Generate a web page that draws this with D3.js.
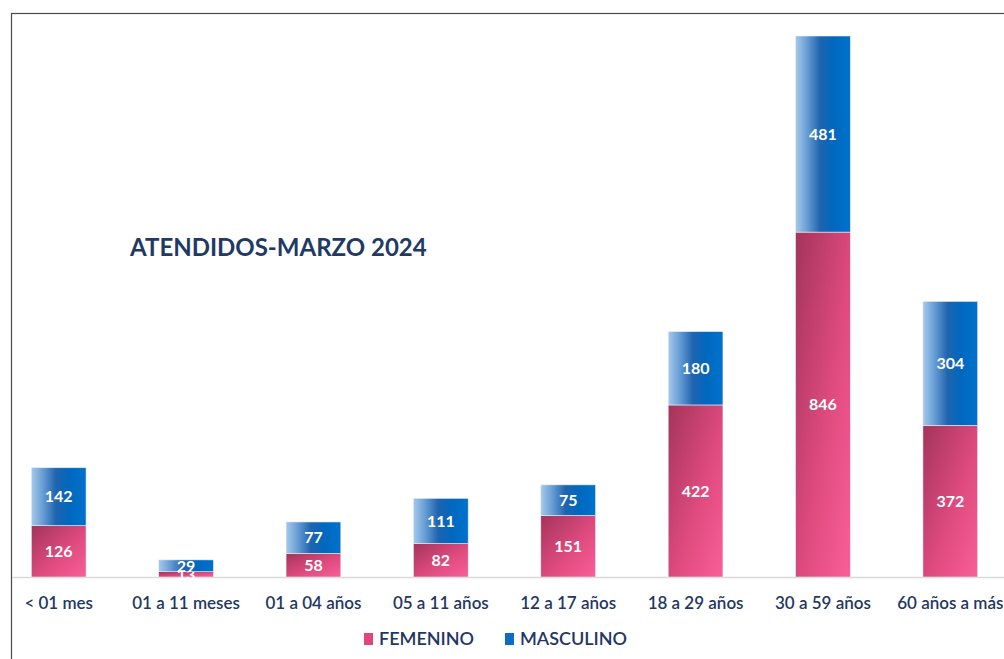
<!DOCTYPE html>
<html>
<head>
<meta charset="utf-8">
<script src="https://cdn.jsdelivr.net/npm/d3@7"></script>
<style>
  body { margin: 0; background: #fff; overflow: hidden; }
  svg { display: block; }
</style>
</head>
<body>
<svg id="chart" width="1004" height="659"></svg>
<script>
var svg = d3.select("#chart");

// data
var categories = ["< 01 mes", "01 a 11 meses", "01 a 04 años", "05 a 11 años",
  "12 a 17 años", "18 a 29 años", "30 a 59 años", "60 años a más"];
var femenino = [126, 13, 58, 82, 151, 422, 846, 372];
var masculino = [142, 29, 77, 111, 75, 180, 481, 304];
var seriesNames = ["FEMENINO", "MASCULINO"];
var chartTitle = "ATENDIDOS-MARZO 2024";

var rows = categories.map(function (c, i) {
  return { cat: c, FEMENINO: femenino[i], MASCULINO: masculino[i] };
});
var stacked = d3.stack().keys(seriesNames)(rows);

// plot area runs past the right edge, like the cropped original
var x = d3.scaleBand()
  .domain(categories)
  .range([-5, 1014])
  .paddingInner(0.57)
  .paddingOuter(0.285);

var y = d3.scaleLinear()
  .domain([0, 1327])
  .range([577, 36]);

// gradients
var defs = svg.append("defs");
var gF = defs.append("linearGradient").attr("id", "gradF")
  .attr("x1", "0").attr("y1", "0").attr("x2", "1").attr("y2", "1");
gF.append("stop").attr("offset", "0%").attr("stop-color", "#a3345a");
gF.append("stop").attr("offset", "55%").attr("stop-color", "#de4a7e");
gF.append("stop").attr("offset", "100%").attr("stop-color", "#f95f98");

var gM = defs.append("linearGradient").attr("id", "gradM")
  .attr("x1", "0").attr("y1", "0").attr("x2", "1").attr("y2", "0");
gM.append("stop").attr("offset", "0%").attr("stop-color", "#a6c9ea");
gM.append("stop").attr("offset", "20%").attr("stop-color", "#6aa0d6");
gM.append("stop").attr("offset", "45%").attr("stop-color", "#1f64ae");
gM.append("stop").attr("offset", "70%").attr("stop-color", "#0068bf");
gM.append("stop").attr("offset", "100%").attr("stop-color", "#0072cc");

var fills = { FEMENINO: "url(#gradF)", MASCULINO: "url(#gradM)" };
var swatch = { FEMENINO: "#e0457d", MASCULINO: "#0b6cc4" };

// outer frame (cropped on the right and bottom)
svg.append("rect")
  .attr("x", 11.5).attr("y", 13.5)
  .attr("width", 1100).attr("height", 700)
  .attr("fill", "none")
  .attr("stroke", "#4a4a4a")
  .attr("stroke-width", 1.2);

// baseline
svg.append("line")
  .attr("x1", 12).attr("x2", 1004)
  .attr("y1", y(0) + 0.5).attr("y2", y(0) + 0.5)
  .attr("stroke", "#d9d9d9")
  .attr("stroke-width", 1.5);

// bars
var layers = svg.selectAll("g.layer")
  .data(stacked)
  .enter().append("g")
  .attr("class", "layer");

layers.selectAll("rect")
  .data(function (d) { return d.map(function (p) { p.key = d.key; return p; }); })
  .enter().append("rect")
  .attr("x", function (d) { return x(d.data.cat); })
  .attr("y", function (d) { return y(d[1]); })
  .attr("width", x.bandwidth())
  .attr("height", function (d) { return y(d[0]) - y(d[1]); })
  .attr("fill", function (d) { return fills[d.key]; })
  .attr("stroke", "#e8eef6")
  .attr("stroke-width", 0.6);

// value labels
layers.selectAll("text")
  .data(function (d) { return d; })
  .enter().append("text")
  .attr("x", function (d) { return x(d.data.cat) + x.bandwidth() / 2; })
  .attr("y", function (d) { return (y(d[0]) + y(d[1])) / 2; })
  .attr("dy", "0.36em")
  .attr("text-anchor", "middle")
  .style("font-family", "Lato, 'Open Sans', sans-serif")
  .style("font-weight", "bold")
  .style("font-size", "16px")
  .style("fill", "#fff")
  .text(function (d) { return d[1] - d[0]; });

// x axis labels
var xAxis = d3.axisBottom(x).tickSize(0).tickPadding(0);
var xg = svg.append("g")
  .attr("transform", "translate(0," + 597 + ")")
  .call(xAxis);
xg.select(".domain").remove();
xg.selectAll("text")
  .style("font-family", "Lato, 'Open Sans', sans-serif")
  .style("font-size", "17px")
  .style("font-weight", "600")
  .style("fill", "#1f3864");

// title
svg.append("text")
  .attr("x", 130).attr("y", 256)
  .style("font-family", "Lato, 'Open Sans', sans-serif")
  .style("font-weight", "bold")
  .style("font-size", "24px")
  .style("fill", "#213a63")
  .text(chartTitle);

// legend
var legendX = [364, 505];
var legend = svg.selectAll("g.legend")
  .data(seriesNames)
  .enter().append("g")
  .attr("class", "legend")
  .attr("transform", function (d, i) { return "translate(" + legendX[i] + ",633)"; });

legend.append("rect")
  .attr("width", 9).attr("height", 12)
  .attr("fill", function (d) { return swatch[d]; });

legend.append("text")
  .attr("x", 15).attr("y", 12)
  .style("font-family", "Lato, 'Open Sans', sans-serif")
  .style("font-size", "18px")
  .style("font-weight", "600")
  .style("fill", "#1f3864")
  .text(function (d) { return d; });
</script>
</body>
</html>
